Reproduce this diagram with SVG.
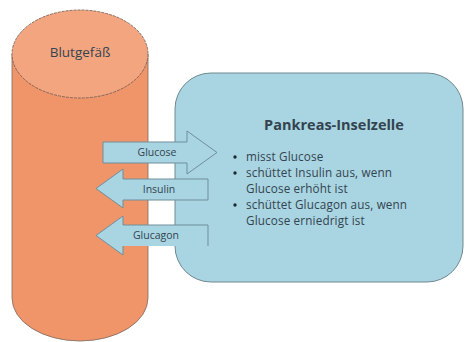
<svg xmlns="http://www.w3.org/2000/svg" width="467" height="342" viewBox="0 0 467 342">
<style>
.cyl{fill:#F0956A;stroke:#7a6a60;stroke-width:0.8}
.top{fill:#F3A580;stroke:#6a5a50;stroke-width:0.8;stroke-dasharray:3 1}
.cell{fill:#A9D4E1;stroke:#6f8890;stroke-width:1}
.arr{fill:#A9D4E1;stroke:#6f8f9a;stroke-width:1}
.t{font-family:"Open Sans","Noto Sans",sans-serif;fill:#334450}
.lbl{font-size:10.5px;text-anchor:middle}
.bl{font-size:11.7px;letter-spacing:0.15px}
</style>
<rect width="467" height="342" fill="#ffffff"/>
<g id="blutgefaess">
<path class="cyl" d="M12,54 L12,298 A68,43 0 0 0 148,298 L148,54 Z"/>
<ellipse class="top" cx="80" cy="54" rx="68" ry="44"/>
<text class="t" x="80" y="57" font-size="13.5" text-anchor="middle" fill="#553a2c">Blutgefäß</text>
</g>
<g id="inselzelle">
<rect class="cell" x="175" y="73" width="288" height="209" rx="36" ry="36"/>
<text class="t" x="334" y="130" font-size="14.5" font-weight="bold" text-anchor="middle" fill="#1e2a33">Pankreas-Inselzelle</text>
<g class="t bl">
<circle cx="235" cy="157" r="1.7" fill="#1e2a33"/>
<text x="246" y="161">misst Glucose</text>
<circle cx="235" cy="173" r="1.7" fill="#1e2a33"/>
<text x="246" y="177">schüttet Insulin aus, wenn</text>
<text x="246" y="193">Glucose erhöht ist</text>
<circle cx="235" cy="205" r="1.7" fill="#1e2a33"/>
<text x="246" y="209">schüttet Glucagon aus, wenn</text>
<text x="246" y="225">Glucose erniedrigt ist</text>
</g>
</g>
<g id="connectors">
<g id="glucose">
<path class="arr" d="M103,142 L187,142 L187,131 L217,152.5 L187,174 L187,163 L103,163 Z"/>
<text class="t lbl" x="157" y="156">Glucose</text>
</g>
<g id="insulin">
<path class="arr" d="M208,179 L123,179 L123,169 L96,188.5 L123,208 L123,200 L208,200 Z"/>
<text class="t lbl" x="159" y="193">Insulin</text>
</g>
<g id="glucagon">
<path d="M208,246 L123,246 L123,255 L96,235.5 L123,216 L123,225 L208,225 Z" fill="#A9D4E1"/>
<path class="arr" fill="none" d="M208,246 L208,225 L123,225 L123,216 L96,235.5 L123,255 L123,246"/>
<text class="t lbl" x="156" y="239">Glucagon</text>
</g>
</g>
</svg>
